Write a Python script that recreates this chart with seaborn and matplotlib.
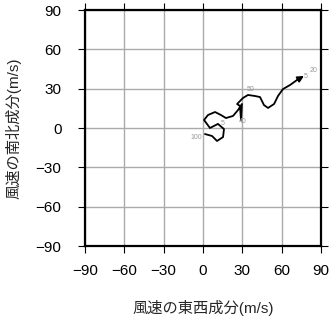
import matplotlib
matplotlib.use("Agg")
import matplotlib.pyplot as plt
import seaborn as sns
import pandas as pd

# wind components (m/s) along the hodograph
u_wind = [1.5, 6.9, 10.7, 15.3, 16.0, 11.4, 5.3, 0.8, 3.8, 9.2, 13.7, 17.5, 22.9, 26.7,
          29.7, 29.0, 28.2, 26.0, 30.5, 34.3, 39.7, 43.5, 46.5, 49.6, 54.2, 57.2, 61.0,
          66.4, 71.7, 77.0]
v_wind = [-4.6, -6.1, -9.9, -6.9, -0.8, 3.1, 0.0, 6.1, 9.9, 12.2, 9.9, 7.6, 9.2, 13.7,
          18.3, 6.1, 16.8, 18.3, 22.9, 25.2, 24.4, 23.6, 17.5, 15.3, 18.3, 24.4, 29.7,
          32.8, 36.6, 39.7]

label_text = ["100", "5", "40", "50", "5", "20"]
label_u = [-5.0, 15.3, 30.5, 36.0, 78.0, 84.0]
label_v = [-7.5, 3.8, 5.3, 29.0, 39.0, 44.0]

ticks = [-90, -60, -30, 0, 30, 60, 90]

sns.set_theme(style="white")
plt.rcParams['font.family'] = ['Liberation Sans', 'Noto Sans CJK JP', 'DejaVu Sans']
plt.rcParams['axes.unicode_minus'] = True

fig = plt.figure(figsize=(3.31, 3.18), dpi=100)
ax = fig.add_axes([85/331, 1 - 246/318, 236/331, 236/318])

df = pd.DataFrame({"u": u_wind[:-1], "v": v_wind[:-1]})
sns.lineplot(data=df, x="u", y="v", sort=False, estimator=None, color="black",
             linewidth=1.3, ax=ax, zorder=3)
ax.annotate("", xy=(u_wind[-1], v_wind[-1]), xytext=(u_wind[-2], v_wind[-2]),
            arrowprops=dict(arrowstyle="-|>", color="black", lw=1.3,
                            mutation_scale=9, shrinkA=0, shrinkB=0), zorder=4)

for t, x, y in zip(label_text, label_u, label_v):
    ax.text(x, y, t, fontsize=5, color="#999999", ha="center", va="center", zorder=5)

ax.set_xlim(-90, 90)
ax.set_ylim(-90, 90)
ax.set_xticks(ticks)
ax.set_yticks(ticks)
ax.set_xticklabels([str(t).replace("-", "\u2212") for t in ticks])
ax.set_yticklabels([str(t).replace("-", "\u2212") for t in ticks])
ax.grid(True, color="#aaaaaa", linewidth=1.0)
ax.set_axisbelow(True)
for s in ax.spines.values():
    s.set_color("black")
    s.set_linewidth(1.6)
ax.tick_params(axis="both", which="both", direction="out", length=5, width=0.8,
               color="black", labelsize=11, labelcolor="black",
               top=True, right=True, bottom=True, left=True)
ax.tick_params(axis="y", pad=12)
ax.tick_params(axis="x", pad=8)
ax.set_xlabel("風速の東西成分(m/s)", fontsize=11, labelpad=16)
ax.set_ylabel("風速の南北成分(m/s)", fontsize=11, labelpad=10)

fig.savefig("out.png", dpi=100)
